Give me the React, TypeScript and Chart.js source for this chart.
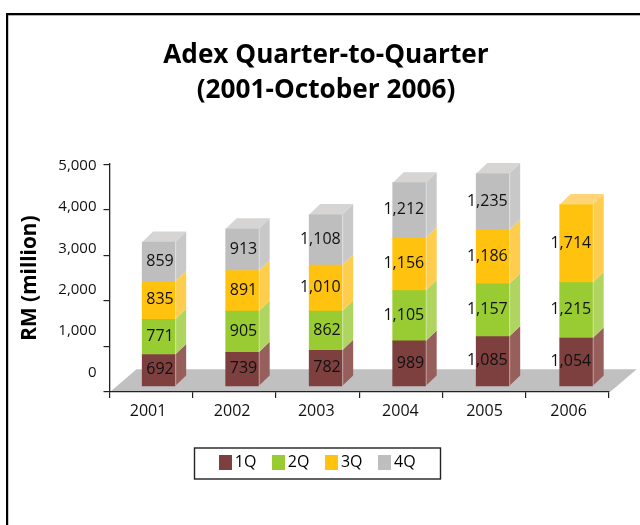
import React, { useEffect, useRef } from "react";
import { Chart, registerables } from "chart.js";

Chart.register(...registerables);

const years = ["2001", "2002", "2003", "2004", "2005", "2006"];
const q1 = [692, 739, 782, 989, 1085, 1054];
const q2 = [771, 905, 862, 1105, 1157, 1215];
const q3 = [835, 891, 1010, 1156, 1186, 1714];
const q4 = [859, 913, 1108, 1212, 1235, null];
const yTickValues = [0, 1000, 2000, 3000, 4000, 5000];
const titleLines = ["Adex Quarter-to-Quarter", "(2001-October 2006)"];
const axisTitle = "RM (million)";

const FONT = "'Open Sans', sans-serif";

const seriesStyles = [
  { label: "1Q", values: q1, front: "#7E3F3F", side: "#975F5B", top: "#A98583" },
  { label: "2Q", values: q2, front: "#99CC33", side: "#AFD560", top: "#C5E08F" },
  { label: "3Q", values: q3, front: "#FFC20E", side: "#FFCD4E", top: "#FFD578" },
  { label: "4Q", values: q4, front: "#BEBEBE", side: "#C9C8C8", top: "#D6D5D3" },
];

const DX = 11;
const DY = 10.5;

function swatch(color: string) {
  const c = document.createElement("canvas");
  c.width = 13;
  c.height = 15;
  const g = c.getContext("2d")!;
  g.fillStyle = color;
  g.fillRect(0, 0, 13, 15);
  return c;
}

const decorPlugin = {
  id: "decor",
  afterLayout(chart: any) {
    const l = chart.legend;
    l.left += 9.2;
    l.right += 9.2;
    const t = chart.titleBlock;
    t.left += 15.5;
    t.right += 15.5;
  },
  beforeDraw(chart: any) {
    const { ctx, chartArea: a } = chart;
    ctx.save();
    // page frame
    ctx.fillStyle = "#000";
    ctx.fillRect(6, 13, 634, 2.3);
    ctx.fillRect(6, 13, 2.2, 512);
    // floor
    ctx.fillStyle = "#C0C0C0";
    ctx.beginPath();
    ctx.moveTo(a.left + 0.5, a.bottom);
    ctx.lineTo(a.left + 27, a.bottom - 22.7);
    ctx.lineTo(a.right + 27.7, a.bottom - 22.7);
    ctx.lineTo(a.right + 1, a.bottom);
    ctx.closePath();
    ctx.fill();
    ctx.restore();
  },
  beforeDatasetsDraw(chart: any) {
    const { ctx } = chart;
    ctx.save();
    chart.data.datasets.forEach((_: any, di: number) => {
      const st = seriesStyles[di];
      chart.getDatasetMeta(di).data.forEach((bar: any, i: number) => {
        if (st.values[i] == null) return;
        const p = bar.getProps(["x", "y", "base", "width"], true);
        const right = p.x + p.width / 2;
        const left = p.x - p.width / 2;
        ctx.fillStyle = st.side;
        ctx.beginPath();
        ctx.moveTo(right, p.base);
        ctx.lineTo(right + DX, p.base - DY);
        ctx.lineTo(right + DX, p.y - DY);
        ctx.lineTo(right, p.y);
        ctx.closePath();
        ctx.fill();
        const isTop = !seriesStyles.slice(di + 1).some((s) => s.values[i] != null);
        if (isTop) {
          ctx.fillStyle = st.top;
          ctx.beginPath();
          ctx.moveTo(left, p.y);
          ctx.lineTo(left + DX, p.y - DY);
          ctx.lineTo(right + DX, p.y - DY);
          ctx.lineTo(right, p.y);
          ctx.closePath();
          ctx.fill();
        }
      });
    });
    ctx.restore();
  },
  afterDatasetsDraw(chart: any) {
    const { ctx } = chart;
    ctx.save();
    ctx.font = `16px ${FONT}`;
    ctx.textAlign = "right";
    ctx.textBaseline = "middle";
    chart.data.datasets.forEach((_: any, di: number) => {
      const st = seriesStyles[di];
      chart.getDatasetMeta(di).data.forEach((bar: any, i: number) => {
        const v = st.values[i];
        if (v == null) return;
        const p = bar.getProps(["x", "y", "base", "width"], true);
        const right = p.x + p.width / 2;
        ctx.strokeStyle = "rgba(255,255,255,0.45)";
        ctx.lineWidth = 1;
        ctx.beginPath();
        ctx.moveTo(right + 0.5, p.base);
        ctx.lineTo(right + 0.5, p.y);
        ctx.stroke();
        ctx.fillStyle = "#111";
        ctx.fillText(v.toLocaleString("en-US"), right - 1.5, (p.y + p.base) / 2 - 0.5);
      });
    });
    // legend frame
    ctx.strokeStyle = "#222";
    ctx.lineWidth = 1.4;
    ctx.strokeRect(194.5, 448, 246, 31);
    ctx.restore();
  },
};

export default function App() {
  const ref = useRef<HTMLCanvasElement>(null);
  useEffect(() => {
    const swatches = seriesStyles.map((s) => swatch(s.front));
    const chart = new Chart(ref.current!, {
      type: "bar",
      data: {
        labels: years,
        datasets: seriesStyles.map((s) => ({
          label: s.label,
          data: s.values.map((y, i) => ({ x: i, y })),
          backgroundColor: s.front,
          borderWidth: 0,
          barThickness: 33,
          xAxisID: "xb",
          yAxisID: "yb",
        })),
      } as any,
      options: {
        responsive: false,
        animation: false,
        layout: { padding: { left: 12, right: 31, top: 0, bottom: 44.5 } },
        plugins: {
          tooltip: { enabled: false },
          title: {
            display: true,
            text: titleLines,
            color: "#000",
            font: { family: FONT, size: 26.2, weight: "bold", lineHeight: 1.3 },
            padding: { top: 39, bottom: 57 },
          },
          legend: {
            position: "bottom",
            labels: {
              usePointStyle: true,
              pointStyleWidth: 3,
              padding: 20.5,
              color: "#111",
              font: { family: FONT, size: 16 },
              generateLabels: () =>
                seriesStyles.map((s, i) => ({
                  text: s.label,
                  pointStyle: swatches[i],
                  fillStyle: s.front,
                  strokeStyle: "transparent",
                  lineWidth: 0,
                  datasetIndex: i,
                  hidden: false,
                })),
            },
          },
        },
        scales: {
          xb: {
            type: "linear",
            display: false,
            stacked: true,
            offset: false,
            min: -0.589,
            max: 5.393,
            grid: { offset: false },
          },
          yb: {
            type: "linear",
            display: false,
            stacked: true,
            min: -131.6,
            max: 4868,
          },
          xt: {
            type: "category",
            labels: years,
            position: "bottom",
            weight: 0,
            offset: true,
            grid: { offset: true, drawOnChartArea: false, tickLength: 6, color: "#222", lineWidth: 1.2 },
            border: { color: "#222", width: 1.3 },
            ticks: { display: false },
            afterFit: (s: any) => {
              s.height = 6;
            },
          },
          xl: {
            type: "linear",
            position: "bottom",
            weight: 1,
            offset: false,
            min: -0.458,
            max: 5.48,
            grid: { display: false, drawTicks: false, offset: false },
            border: { display: false },
            afterBuildTicks: (s: any) => {
              s.ticks = years.map((_, i) => ({ value: i }));
            },
            ticks: {
              autoSkip: false,
              maxRotation: 0,
              padding: 4,
              color: "#111",
              font: { family: FONT, size: 16 },
              callback: (v: any) => years[v],
            },
            afterFit: (s: any) => {
              s.height = 36;
            },
          },
          yt: {
            type: "linear",
            position: "left",
            weight: 0,
            min: 0,
            max: 5000,
            grid: { drawOnChartArea: false, tickLength: 6, color: "#222", lineWidth: 1.2 },
            border: { color: "#222", width: 1.3 },
            ticks: { display: false, stepSize: 1000 },
            afterFit: (s: any) => {
              s.width = 6;
            },
          },
          yl: {
            type: "linear",
            position: "left",
            weight: 1,
            min: -471,
            max: 5036,
            grid: { display: false, drawTicks: false },
            border: { display: false },
            afterBuildTicks: (s: any) => {
              s.ticks = yTickValues.map((value) => ({ value }));
            },
            ticks: {
              autoSkip: false,
              padding: 7,
              color: "#111",
              font: { family: FONT, size: 15 },
              callback: (v: any) => Number(v).toLocaleString("en-US"),
            },
            title: {
              display: true,
              text: axisTitle,
              color: "#000",
              font: { family: FONT, size: 20.8, weight: "bold" },
              padding: { top: 6, bottom: 0 },
            },
            afterFit: (s: any) => {
              s.width = 91.5;
            },
          },
        },
      } as any,
      plugins: [decorPlugin],
    });
    return () => chart.destroy();
  }, []);
  return (
    <div style={{ position: "fixed", left: 0, top: 0, width: 640, height: 525, overflow: "hidden" }}>
      <canvas ref={ref} width={640} height={525} style={{ display: "block" }} />
    </div>
  );
}
